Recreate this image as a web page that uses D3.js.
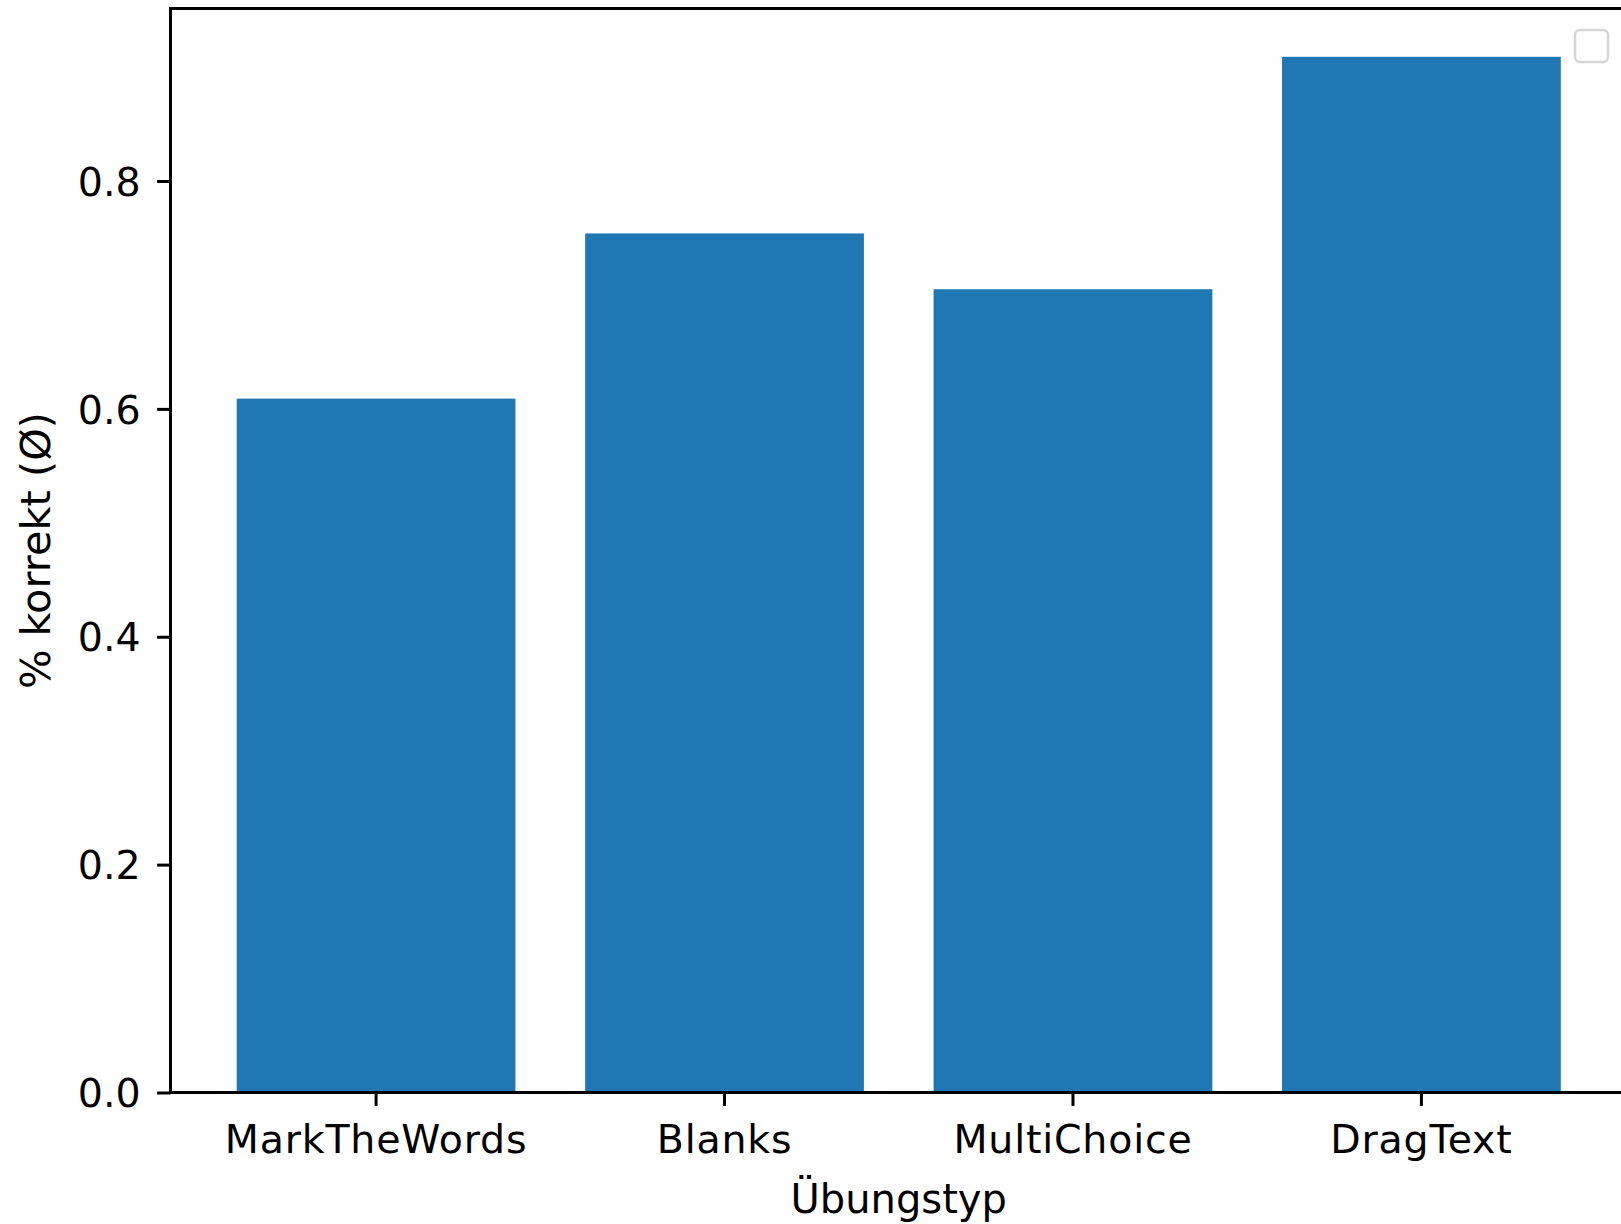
<!DOCTYPE html>
<html>
<head>
<meta charset="utf-8">
<script src="https://cdn.jsdelivr.net/npm/d3@7"></script>
<style>
  html, body { margin: 0; padding: 0; background: #fff; }
  svg { display: block; }
  text { font-family: "DejaVu Sans", sans-serif; fill: #000; }
</style>
</head>
<body>
<svg id="chart" width="1621" height="1224"></svg>
<script>
// Average share of correct answers per exercise type
const categories = ["MarkTheWords", "Blanks", "MultiChoice", "DragText"];
const values = [0.609, 0.754, 0.705, 0.909];
const yTicks = [0.0, 0.2, 0.4, 0.6, 0.8];
const yMax = 0.9514;
const xTitle = "Übungstyp";
const yTitle = "% korrekt (Ø)";

const svg = d3.select("#chart");
const plotLeft = 170.5, plotRight = 1627, plotTop = 8.5, plotBottom = 1092.5;
const tickFont = 39.5;
const titleFont = 40;
const tickLen = 13.4;
const lw = 3;

const x = d3.scaleBand()
  .domain(categories)
  .range([plotLeft, plotRight])
  .paddingInner(0.2)
  .paddingOuter(0.19);

const y = d3.scaleLinear()
  .domain([0, yMax])
  .range([plotBottom, plotTop]);

// bars
svg.append("g")
  .selectAll("rect")
  .data(categories)
  .join("rect")
  .attr("x", d => x(d))
  .attr("width", x.bandwidth())
  .attr("y", (d, i) => y(values[i]))
  .attr("height", (d, i) => y(0) - y(values[i]))
  .attr("fill", "#1f77b4");

// y axis
const gy = svg.append("g")
  .attr("transform", `translate(${plotLeft},0)`)
  .call(d3.axisLeft(y).tickValues(yTicks).tickFormat(d3.format(".1f"))
    .tickSize(tickLen).tickPadding(16.5));
gy.select(".domain").remove();
gy.selectAll(".tick line").attr("stroke", "#000").attr("stroke-width", lw);
gy.selectAll(".tick text")
  .attr("font-size", tickFont)
  .attr("font-family", "DejaVu Sans, sans-serif")
  .attr("dy", "0.36em")
  .attr("fill", "#1a1a1a");

// x axis
const gx = svg.append("g")
  .attr("transform", `translate(0,${plotBottom})`)
  .call(d3.axisBottom(x).tickSize(tickLen).tickPadding(19.5));
gx.select(".domain").remove();
gx.selectAll(".tick line").attr("stroke", "#000").attr("stroke-width", lw);
gx.selectAll(".tick text")
  .attr("font-size", tickFont)
  .attr("font-family", "DejaVu Sans, sans-serif")
  .attr("letter-spacing", 0.8)
  .attr("fill", "#1a1a1a");

// axes frame
svg.append("rect")
  .attr("x", plotLeft).attr("y", plotTop)
  .attr("width", plotRight - plotLeft).attr("height", plotBottom - plotTop)
  .attr("fill", "none").attr("stroke", "#000").attr("stroke-width", lw);

// axis titles
svg.append("text")
  .attr("x", (plotLeft + plotRight) / 2)
  .attr("y", 1213)
  .attr("text-anchor", "middle")
  .attr("font-size", titleFont)
  .attr("fill", "#1a1a1a")
  .text(xTitle);

svg.append("text")
  .attr("transform", `translate(50,${(plotTop + plotBottom) / 2}) rotate(-90)`)
  .attr("text-anchor", "middle")
  .attr("font-size", 41.5)
  .attr("fill", "#1a1a1a")
  .text(yTitle);

// empty legend frame
svg.append("rect")
  .attr("x", 1575).attr("y", 30)
  .attr("width", 33).attr("height", 32)
  .attr("rx", 5)
  .attr("fill", "#fff")
  .attr("stroke", "#d6d6d6")
  .attr("stroke-width", 2.5);
</script>
</body>
</html>
